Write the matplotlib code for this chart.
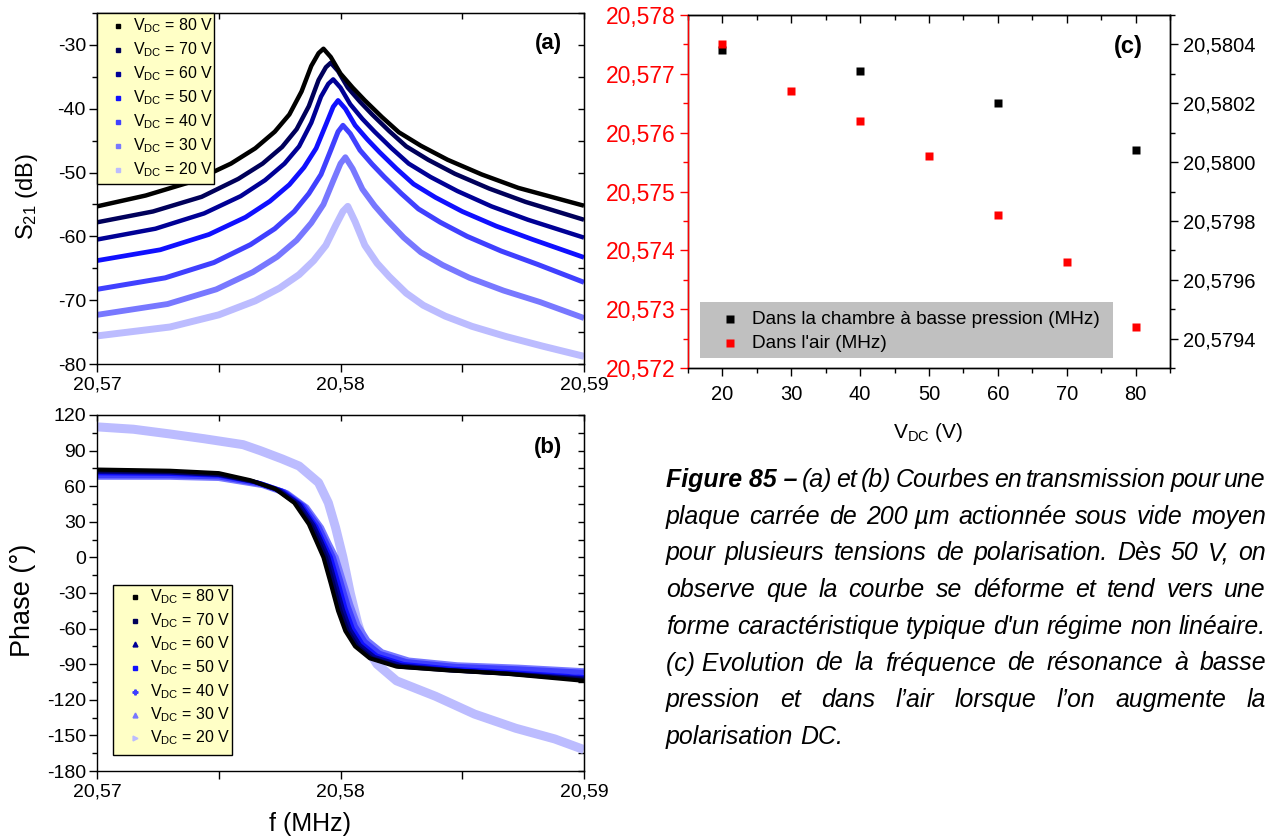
import matplotlib
matplotlib.use('Agg')
import matplotlib.pyplot as plt
from matplotlib.ticker import MultipleLocator, FuncFormatter
from matplotlib.patches import Rectangle
from matplotlib.lines import Line2D

plt.rcParams['font.family'] = ['Liberation Sans', 'DejaVu Sans']
plt.rcParams['mathtext.fontset'] = 'custom'
plt.rcParams['mathtext.rm'] = 'Liberation Sans'
plt.rcParams['mathtext.it'] = 'Liberation Sans:italic'
plt.rcParams['mathtext.bf'] = 'Liberation Sans:bold'

# ---------------- data ----------------
voltages = [80, 70, 60, 50, 40, 30, 20]
colors = ['#000000', '#00005a', '#000096', '#1010ff', '#4040ff', '#7878ff', '#bcbcff']
markers_b = ['s', 's', '^', 's', 'P', '^', '>']

# (a) S21 (dB) vs f (MHz)
f_s21_80 = [20.5700, 20.5720, 20.5740, 20.5755, 20.5765, 20.5773, 20.5779, 20.5784, 20.5788, 20.5791, 20.5793, 20.5796, 20.5800, 20.5805, 20.5810, 20.5817, 20.5824, 20.5833, 20.5844, 20.5858, 20.5873, 20.5900]
s21_80 = [-55.3, -53.6, -51.3, -48.6, -46.2, -43.6, -40.9, -37.3, -33.3, -31.3, -30.6, -31.9, -34.5, -36.7, -38.7, -41.3, -43.7, -45.8, -48.0, -50.3, -52.4, -55.2]
f_s21_70 = [20.5700, 20.5723, 20.5743, 20.5758, 20.5768, 20.5776, 20.5782, 20.5787, 20.5791, 20.5794, 20.5796, 20.5799, 20.5803, 20.5808, 20.5813, 20.5820, 20.5827, 20.5836, 20.5847, 20.5861, 20.5876, 20.5900]
s21_70 = [-57.8, -56.1, -53.8, -51.0, -48.6, -46.0, -43.2, -39.6, -35.5, -33.5, -32.8, -34.1, -36.7, -38.9, -40.9, -43.5, -45.9, -48.0, -50.2, -52.5, -54.6, -57.4]
f_s21_60 = [20.5700, 20.5724, 20.5744, 20.5759, 20.5769, 20.5777, 20.5783, 20.5788, 20.5792, 20.5795, 20.5797, 20.5800, 20.5804, 20.5809, 20.5814, 20.5821, 20.5828, 20.5837, 20.5848, 20.5862, 20.5877, 20.5900]
s21_60 = [-60.5, -58.8, -56.4, -53.7, -51.2, -48.6, -45.9, -42.2, -38.1, -36.1, -35.4, -36.7, -39.3, -41.6, -43.6, -46.2, -48.6, -50.7, -52.9, -55.3, -57.4, -60.2]
f_s21_50 = [20.5700, 20.5726, 20.5746, 20.5761, 20.5771, 20.5779, 20.5785, 20.5790, 20.5794, 20.5797, 20.5799, 20.5802, 20.5806, 20.5811, 20.5816, 20.5823, 20.5830, 20.5839, 20.5850, 20.5864, 20.5879, 20.5900]
s21_50 = [-63.8, -62.1, -59.7, -57.0, -54.5, -51.9, -49.2, -46.2, -42.5, -39.7, -38.7, -40.0, -42.6, -44.8, -46.8, -49.4, -51.8, -53.9, -56.1, -58.4, -60.5, -63.3]
f_s21_40 = [20.5700, 20.5728, 20.5748, 20.5763, 20.5773, 20.5781, 20.5787, 20.5792, 20.5796, 20.5799, 20.5801, 20.5804, 20.5808, 20.5813, 20.5818, 20.5825, 20.5832, 20.5841, 20.5852, 20.5866, 20.5881, 20.5900]
s21_40 = [-68.3, -66.5, -64.1, -61.3, -58.8, -56.1, -53.3, -50.3, -46.5, -43.6, -42.6, -43.9, -46.5, -48.7, -50.7, -53.3, -55.7, -57.8, -60.0, -62.3, -64.4, -67.2]
f_s21_30 = [20.5700, 20.5729, 20.5749, 20.5764, 20.5774, 20.5782, 20.5788, 20.5793, 20.5797, 20.5800, 20.5802, 20.5805, 20.5809, 20.5814, 20.5819, 20.5826, 20.5833, 20.5842, 20.5853, 20.5867, 20.5882, 20.5900]
s21_30 = [-72.3, -70.6, -68.3, -65.6, -63.2, -60.6, -57.9, -55.0, -51.3, -48.6, -47.6, -49.4, -52.6, -55.2, -57.4, -60.2, -62.5, -64.5, -66.5, -68.5, -70.3, -72.8]
f_s21_20 = [20.5700, 20.5730, 20.5750, 20.5765, 20.5775, 20.5783, 20.5789, 20.5794, 20.5798, 20.5801, 20.5803, 20.5806, 20.5810, 20.5815, 20.5820, 20.5827, 20.5834, 20.5843, 20.5854, 20.5868, 20.5883, 20.5900]
s21_20 = [-75.6, -74.2, -72.3, -70.1, -68.1, -66.0, -63.8, -61.4, -58.3, -56.1, -55.3, -57.7, -61.4, -64.2, -66.3, -68.9, -70.8, -72.5, -74.1, -75.7, -77.2, -78.8]

# (b) phase (deg) vs f (MHz)
f_ph_80 = [20.5700, 20.5730, 20.5750, 20.5763, 20.5773, 20.5781, 20.5787, 20.5790, 20.5793, 20.5796, 20.5799, 20.5802, 20.5806, 20.5812, 20.5823, 20.5843, 20.5868, 20.5900]
ph_80 = [74, 73, 71, 65, 58, 46, 28, 14, 0, -22, -45, -62, -75, -85, -92, -95, -98, -104]
f_ph_70 = [20.5700, 20.5730, 20.5750, 20.5764, 20.5774, 20.5782, 20.5788, 20.5791, 20.5794, 20.5797, 20.5800, 20.5803, 20.5807, 20.5813, 20.5824, 20.5844, 20.5869, 20.5900]
ph_70 = [73, 72, 70, 64, 57, 45, 27, 14, 0, -22, -45, -62, -75, -85, -92, -95, -98, -103]
f_ph_60 = [20.5700, 20.5730, 20.5750, 20.5765, 20.5775, 20.5783, 20.5789, 20.5792, 20.5795, 20.5798, 20.5801, 20.5804, 20.5808, 20.5814, 20.5825, 20.5845, 20.5870, 20.5900]
ph_60 = [72, 71.5, 69.5, 63.5, 56.5, 45, 27, 14, 0, -22, -44, -61, -74, -84, -91, -95, -98, -102]
f_ph_50 = [20.5700, 20.5730, 20.5750, 20.5766, 20.5776, 20.5784, 20.5790, 20.5793, 20.5796, 20.5799, 20.5802, 20.5805, 20.5809, 20.5815, 20.5826, 20.5846, 20.5871, 20.5900]
ph_50 = [71, 70.5, 69, 63, 56, 44, 26, 13, 0, -21, -43, -60, -73, -83, -90, -94, -97, -101]
f_ph_40 = [20.5700, 20.5730, 20.5750, 20.5767, 20.5777, 20.5785, 20.5791, 20.5794, 20.5797, 20.5800, 20.5803, 20.5806, 20.5810, 20.5816, 20.5827, 20.5847, 20.5872, 20.5900]
ph_40 = [69, 69, 68, 62, 55, 43, 26, 13, 0, -20, -41, -58, -71, -81, -88, -92, -94, -97]
f_ph_30 = [20.5700, 20.5730, 20.5750, 20.5768, 20.5778, 20.5786, 20.5792, 20.5795, 20.5798, 20.5801, 20.5804, 20.5807, 20.5811, 20.5817, 20.5828, 20.5848, 20.5873, 20.5900]
ph_30 = [68, 68, 67, 61, 54, 42, 25, 12, 0, -20, -40, -57, -70, -80, -87, -91, -93, -96]
f_ph_20 = [20.5700, 20.5715, 20.5730, 20.5744, 20.5760, 20.5767, 20.5776, 20.5783, 20.5791, 20.5795, 20.5798, 20.5801, 20.5804, 20.5807, 20.5810, 20.5815, 20.5823, 20.5839, 20.5855, 20.5872, 20.5888, 20.5900]
ph_20 = [110, 108, 104, 100, 95, 90, 83, 77, 63, 46, 25, 0, -30, -55, -74, -90, -104, -117, -132, -144, -153, -162]

# (c) resonance frequency vs V_DC
vdc_lowp = [20, 40, 60, 80]
freq_lowp = [20.58038, 20.58031, 20.58020, 20.58004]
vdc_air = [20, 30, 40, 50, 60, 70, 80]
freq_air = [20.57751, 20.57671, 20.57620, 20.57560, 20.57460, 20.57380, 20.57270]

legend_c = ['Dans la chambre à basse pression (MHz)', "Dans l'air (MHz)"]

caption_bold = 'Figure 85 –'
caption_lines = [
    '(a) et (b) Courbes en transmission pour une',
    'plaque carrée de 200\u00a0µm actionnée sous vide moyen',
    'pour plusieurs tensions de polarisation. Dès 50 V, on',
    'observe que la courbe se déforme et tend vers une',
    "forme caractéristique typique d'un régime non linéaire.",
    '(c)\u00a0Evolution de la fréquence de résonance à basse',
    'pression et dans l’air lorsque l’on augmente la',
    'polarisation DC.',
]

s21_f = [f_s21_80, f_s21_70, f_s21_60, f_s21_50, f_s21_40, f_s21_30, f_s21_20]
s21_v = [s21_80, s21_70, s21_60, s21_50, s21_40, s21_30, s21_20]
ph_f = [f_ph_80, f_ph_70, f_ph_60, f_ph_50, f_ph_40, f_ph_30, f_ph_20]
ph_v = [ph_80, ph_70, ph_60, ph_50, ph_40, ph_30, ph_20]
lws_a = [3.2, 3.2, 3.2, 3.4, 3.6, 4.2, 5.0]
lws_b = [3.0, 3.0, 3.0, 3.2, 4.0, 4.5, 6.5]

# ---------------- figure ----------------
W, H = 1268, 839
fig = plt.figure(figsize=(W / 100, H / 100), dpi=100)


def px_axes(l, t, r, b):
    return fig.add_axes([l / W, 1 - b / H, (r - l) / W, (b - t) / H])


def fx(x):
    return x / W


def fy(y):
    return 1 - y / H


comma2 = FuncFormatter(lambda v, p: f'{v:.2f}'.replace('.', ','))
comma3 = FuncFormatter(lambda v, p: f'{v:.3f}'.replace('.', ','))
comma4 = FuncFormatter(lambda v, p: f'{v:.4f}'.replace('.', ','))
intfmt = FuncFormatter(lambda v, p: f'{int(round(v))}')

axa = px_axes(97, 13, 584, 364)
axb = px_axes(97, 415, 584, 771)
axc = px_axes(688, 15, 1170, 368)


def style_freq_axes(ax, ymaj, ymin, ylim):
    ax.set_xlim(20.57, 20.59)
    ax.set_ylim(*ylim)
    ax.xaxis.set_major_locator(MultipleLocator(0.01))
    ax.xaxis.set_minor_locator(MultipleLocator(0.005))
    ax.xaxis.set_major_formatter(comma2)
    ax.yaxis.set_major_locator(MultipleLocator(ymaj))
    ax.yaxis.set_minor_locator(MultipleLocator(ymin))
    ax.yaxis.set_major_formatter(intfmt)
    ax.tick_params(axis='x', which='both', direction='out', length=6, width=1.0, labelsize=14, pad=3)
    ax.tick_params(axis='y', which='major', direction='out', length=6, width=1.0, labelsize=14, pad=2)
    ax.tick_params(axis='y', which='minor', direction='out', length=3.5, width=1.0)
    for s in ax.spines.values():
        s.set_linewidth(1.0)
    top = ax.secondary_xaxis('top')
    top.xaxis.set_major_locator(MultipleLocator(0.005))
    top.tick_params(which='both', direction='in', length=4, width=1.0, labeltop=False)
    right = ax.secondary_yaxis('right')
    right.yaxis.set_major_locator(MultipleLocator(ymin))
    right.tick_params(which='both', direction='in', length=4, width=1.0, labelright=False)


style_freq_axes(axa, 10, 5, (-80, -25))
style_freq_axes(axb, 30, 15, (-180, 120))

for i in range(len(voltages) - 1, -1, -1):
    axa.plot(s21_f[i], s21_v[i], color=colors[i], lw=lws_a[i], solid_joinstyle='round', solid_capstyle='butt')
    axb.plot(ph_f[i], ph_v[i], color=colors[i], lw=lws_b[i], solid_joinstyle='round', solid_capstyle='butt')

axa.set_ylabel('S$_{21}$ (dB)', fontsize=17)
axa.yaxis.set_label_coords(-0.118, 0.476)
axb.set_ylabel('Phase (°)', fontsize=19.5)
axb.yaxis.set_label_coords(-0.125, 0.48)
axb.set_xlabel('f (MHz)', fontsize=18)
axb.xaxis.set_label_coords(0.437, -0.115)
axa.text(0.926, 0.912, '(a)', transform=axa.transAxes, fontsize=16, weight='bold', ha='center', va='center')
axb.text(0.926, 0.910, '(b)', transform=axb.transAxes, fontsize=16, weight='bold', ha='center', va='center')


def manual_legend(ax, box, ys, mx, tx, mk):
    l, t, r, b = box
    ax.add_patch(Rectangle((fx(l), fy(b)), (r - l) / W, (b - t) / H, transform=fig.transFigure,
                           facecolor='#ffffc6', edgecolor='black', lw=1.0, clip_on=False, zorder=10))
    for i, v in enumerate(voltages):
        ax.add_line(Line2D([fx(mx)], [fy(ys[i])], marker=mk[i], ms=3.5, color=colors[i], mec=colors[i],
                           linestyle='none', transform=fig.transFigure, clip_on=False, zorder=11))
        ax.text(fx(tx), fy(ys[i]), r'V$_{\mathregular{DC}}$ = %d V' % v, transform=fig.transFigure,
                fontsize=11.5, ha='left', va='center', zorder=11)


manual_legend(axa, (97, 13, 214, 184), [26, 50, 74, 98, 122, 146, 170], 118, 133, ['s'] * 7)
manual_legend(axb, (113, 585, 232, 755), [597, 621, 644, 668, 692, 715, 738], 135, 150, markers_b)

# ---------------- panel (c) ----------------
axc.plot(vdc_lowp, freq_lowp, 's', color='black', ms=5.5, mec='none')
axc2 = axc.twinx()
axc2.plot(vdc_air, freq_air, 's', color='red', ms=5.5, mec='none')
axc.yaxis.tick_right()
axc.yaxis.set_label_position('right')
axc2.yaxis.tick_left()
axc2.yaxis.set_label_position('left')

axc.set_xlim(15, 85)
axc.set_ylim(20.5793, 20.5805)
axc2.set_ylim(20.572, 20.578)
axc.xaxis.set_major_locator(MultipleLocator(10))
axc.xaxis.set_minor_locator(MultipleLocator(5))
axc.yaxis.set_major_locator(MultipleLocator(0.0002))
axc.yaxis.set_minor_locator(MultipleLocator(0.0001))
axc.yaxis.set_major_formatter(comma4)
axc2.yaxis.set_major_locator(MultipleLocator(0.001))
axc2.yaxis.set_minor_locator(MultipleLocator(0.0005))
axc2.yaxis.set_major_formatter(comma3)
axc.tick_params(axis='x', which='major', direction='out', length=6, width=1.0, labelsize=14.5, pad=6)
axc.tick_params(axis='x', which='minor', direction='out', length=3.5, width=1.0)
axc.tick_params(axis='y', which='major', direction='out', length=6, width=1.0, labelsize=14.5, pad=3)
axc.tick_params(axis='y', which='minor', direction='out', length=3.5, width=1.0)
axc2.tick_params(axis='y', which='major', direction='out', length=6, width=1.0, labelsize=16.5,
                 colors='red', pad=3)
axc2.tick_params(axis='y', which='minor', direction='out', length=3.5, width=1.0, colors='red')
axc2.spines['left'].set_color('red')
for s in list(axc.spines.values()) + list(axc2.spines.values()):
    s.set_linewidth(1.0)
topc = axc.secondary_xaxis('top')
topc.xaxis.set_major_locator(MultipleLocator(10))
topc.xaxis.set_minor_locator(MultipleLocator(5))
topc.tick_params(which='major', direction='in', length=6, width=1.0, labeltop=False)
topc.tick_params(which='minor', direction='in', length=3.5, width=1.0, labeltop=False)

axc.set_xlabel(r'V$_{\mathregular{DC}}$ (V)', fontsize=15)
axc.xaxis.set_label_coords(0.498, -0.15)
axc2.text(0.913, 0.912, '(c)', transform=axc2.transAxes, fontsize=17, weight='bold', ha='center', va='center')

axc2.add_patch(Rectangle((fx(700), fy(358)), 413 / W, 56 / H, transform=fig.transFigure,
                         facecolor='#c0c0c0', edgecolor='none', clip_on=False, zorder=10))
for yy, col, lab in [(319, 'black', legend_c[0]), (343, 'red', legend_c[1])]:
    axc2.add_line(Line2D([fx(730)], [fy(yy)], marker='s', ms=5.5, color=col, mec='none', linestyle='none',
                         transform=fig.transFigure, clip_on=False, zorder=11))
    axc2.text(fx(752), fy(yy), lab, transform=fig.transFigure, fontsize=13.7, ha='left', va='center', zorder=11)

# ---------------- caption (justified) ----------------
cap_font = ['Liberation Sans Narrow', 'Liberation Sans', 'DejaVu Sans']
renderer = fig.canvas.get_renderer()


def text_w(s, size, weight='normal'):
    t = fig.text(0, 0, s, fontsize=size, style='italic', weight=weight, family=cap_font)
    w = t.get_window_extent(renderer).width
    t.remove()
    return w


cap_left, cap_right = 666, 1266
fs = 14 * (cap_right - cap_left) / text_w(caption_lines[4], 14)
base0, lead = 487, 36.7
for i, line in enumerate(caption_lines):
    toks = [(w, 'normal') for w in line.split(' ')]
    if i == 0:
        toks = [(caption_bold, 'bold')] + toks
    widths = [text_w(w, fs, wt) for w, wt in toks]
    if i < len(caption_lines) - 1:
        gap = (cap_right - cap_left - sum(widths)) / (len(toks) - 1)
    else:
        gap = text_w('a a', fs) - text_w('aa', fs)
    x = cap_left
    y = base0 + i * lead
    for (w, wt), wd in zip(toks, widths):
        fig.text(fx(x), fy(y), w, fontsize=fs, style='italic', weight=wt, family=cap_font,
                 ha='left', va='baseline')
        x += wd + gap

fig.savefig('out.png', dpi=100)
